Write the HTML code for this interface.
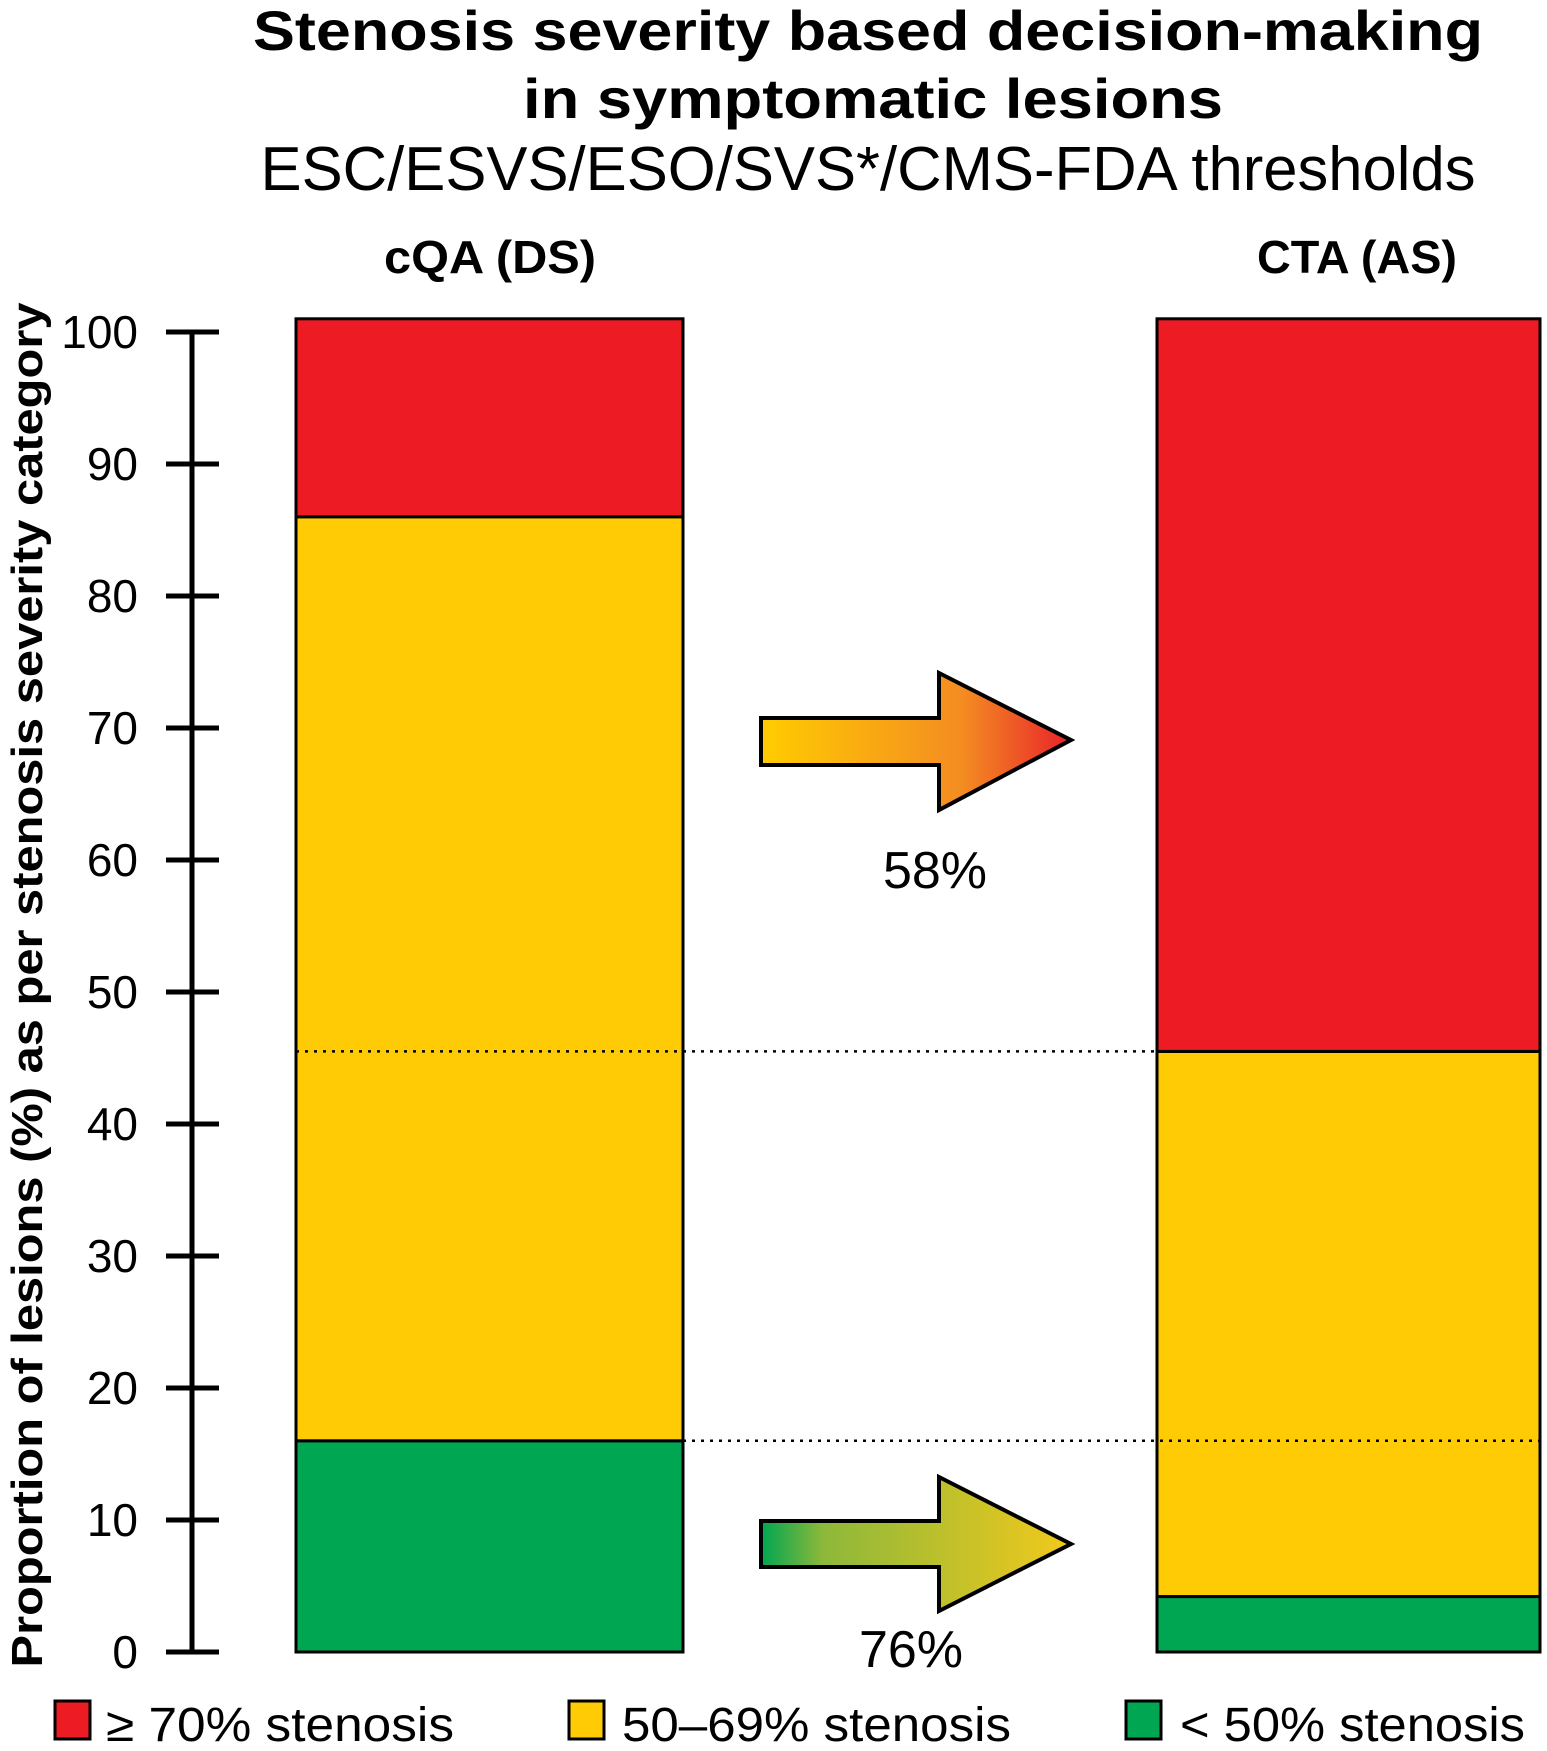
<!DOCTYPE html>
<html><head><meta charset="utf-8"><style>
html,body{margin:0;padding:0;background:#fff;}
svg{display:block;font-family:"Liberation Sans",sans-serif;}
</style></head><body>
<svg id="chart" width="1547" height="1751" viewBox="0 0 1547 1751" xmlns="http://www.w3.org/2000/svg">
<defs>
<linearGradient id="g1" x1="0" x2="1" y1="0" y2="0"><stop offset="0" stop-color="#ffcc00"/><stop offset="0.65" stop-color="#f48c22"/><stop offset="1" stop-color="#e8222a"/></linearGradient>
<linearGradient id="g2" x1="0" x2="1" y1="0" y2="0"><stop offset="0" stop-color="#00a651"/><stop offset="0.2" stop-color="#8db83a"/><stop offset="1" stop-color="#f2c91c"/></linearGradient>
</defs>
<g>
<text x="868" y="50" text-anchor="middle" font-size="56" font-weight="bold" textLength="1230" lengthAdjust="spacingAndGlyphs">Stenosis severity based decision-making</text>
<text x="873" y="118" text-anchor="middle" font-size="56" font-weight="bold" textLength="700" lengthAdjust="spacingAndGlyphs">in symptomatic lesions</text>
<text x="868" y="190" text-anchor="middle" font-size="62" textLength="1215" lengthAdjust="spacingAndGlyphs">ESC/ESVS/ESO/SVS*/CMS-FDA thresholds</text>
</g>
<text x="490" y="273" text-anchor="middle" font-size="46" font-weight="bold" textLength="212" lengthAdjust="spacingAndGlyphs">cQA (DS)</text>
<text x="1357" y="273" text-anchor="middle" font-size="46" font-weight="bold" textLength="200" lengthAdjust="spacingAndGlyphs">CTA (AS)</text>
<text transform="translate(42,985) rotate(-90)" text-anchor="middle" font-size="44" font-weight="bold" textLength="1365" lengthAdjust="spacingAndGlyphs">Proportion of lesions (%) as per stenosis severity category</text>
<g id="axis"></g>
<g id="bars"></g>
<g id="arrows">
<polygon points="761,718 939,718 939,673 1071,740 939,810 939,765 761,765" fill="url(#g1)" stroke="#000" stroke-width="4"/>
<text x="935" y="888" text-anchor="middle" font-size="52" font-weight="300">58%</text>
<polygon points="761,1521 939,1521 939,1477 1071,1544 939,1611 939,1567 761,1567" fill="url(#g2)" stroke="#000" stroke-width="4"/>
<text x="911" y="1667" text-anchor="middle" font-size="52" font-weight="300">76%</text>
</g>
<g>
<rect x="55" y="1701" width="35" height="38" fill="#ed1c24" stroke="#000" stroke-width="3"/>
<text x="106" y="1741" font-size="48" textLength="348" lengthAdjust="spacingAndGlyphs">≥ 70% stenosis</text>
<rect x="569" y="1701" width="35" height="38" fill="#ffcb05" stroke="#000" stroke-width="3"/>
<text x="622" y="1741" font-size="48" textLength="389" lengthAdjust="spacingAndGlyphs">50–69% stenosis</text>
<rect x="1126" y="1701" width="35" height="38" fill="#00a651" stroke="#000" stroke-width="3"/>
<text x="1180" y="1741" font-size="48" textLength="345" lengthAdjust="spacingAndGlyphs">&lt; 50% stenosis</text>
</g>
</svg>
<script>
const ticks = [0,10,20,30,40,50,60,70,80,90,100];
const groups = ["cQA (DS)", "CTA (AS)"];
const greenVals = [16, 4.2];
const yellowVals = [70, 41.3];
const redVals = [15, 55.5];
const colors = ["#00a651","#ffcb05","#ed1c24"];
const NS="http://www.w3.org/2000/svg";
const y = v => 1652 - v*13.2;
const barX = [296, 1157], barW = [387, 383];
const ax = document.getElementById('axis');
function mk(t,a,p){const e=document.createElementNS(NS,t);for(const k in a)e.setAttribute(k,a[k]);p.appendChild(e);return e;}
const al = mk('line',{x1:192,x2:192,y1:y(100),y2:y(0),stroke:'#000','stroke-width':5},ax);


ticks.forEach(t=>{
 const l=mk('line',{x1:166,x2:219,y1:y(t),y2:y(t),stroke:'#000','stroke-width':5},ax);
 
 
 const tx=mk('text',{x:138,y:y(t)+16,'text-anchor':'end','font-size':46,'font-weight':300},ax);
 tx.textContent=t;
 
 
});
const bg=document.getElementById('bars');
const series=[greenVals,yellowVals,redVals];
const names=['green','yellow','red'];
groups.forEach((g,i)=>{
 let base=0;
 series.forEach((s,j)=>{
  const v=s[i];
  const r=mk('rect',{x:barX[i],y:y(base+v),width:barW[i],height:v*13.2,fill:colors[j],stroke:'#000','stroke-width':3},bg);
  
  
  base+=v;
 });
});
const d1=mk('line',{x1:296,x2:1157,y1:y(greenVals[1]+yellowVals[1]),y2:y(greenVals[1]+yellowVals[1]),stroke:'#000','stroke-width':2.5,'stroke-dasharray':'3 6'},bg);


const d2=mk('line',{x1:683,x2:1540,y1:y(greenVals[0]),y2:y(greenVals[0]),stroke:'#000','stroke-width':2.5,'stroke-dasharray':'3 6'},bg);


</script>
</body></html>
